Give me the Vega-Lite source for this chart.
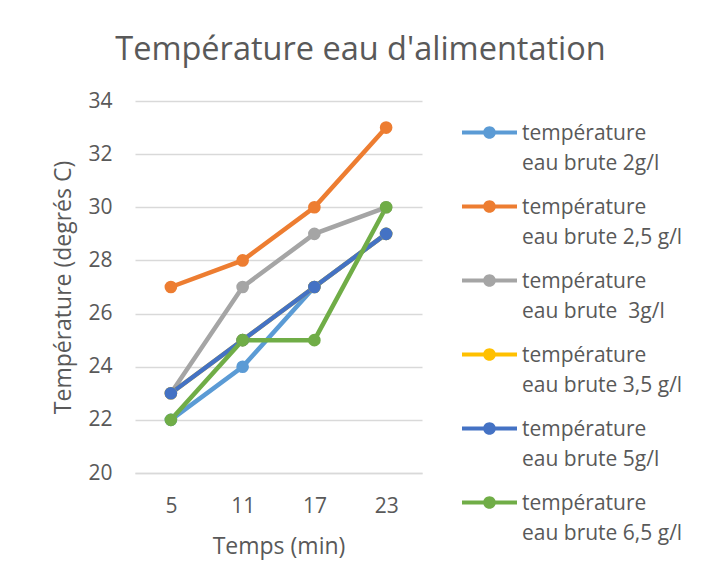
{
  "$schema": "https://vega.github.io/schema/vega-lite/v6.json",
  "autosize": "none",
  "width": 287,
  "height": 372,
  "padding": {"left": 135, "top": 101, "right": 291, "bottom": 113},
  "background": "white",
  "config": {"view": {"stroke": null}},
  "title": {
    "text": "Température eau d'alimentation",
    "anchor": "middle",
    "dx": 82,
    "offset": -2,
    "baseline": "alphabetic",
    "font": "Open Sans",
    "fontSize": 32.5,
    "fontWeight": "normal",
    "color": "#595959"
  },
  "data": {
    "values": [
      {"t": "5", "serie": "température eau brute 2g/l", "temp": 22},
      {"t": "11", "serie": "température eau brute 2g/l", "temp": 24},
      {"t": "17", "serie": "température eau brute 2g/l", "temp": 27},
      {"t": "23", "serie": "température eau brute 2g/l", "temp": 29},
      {"t": "5", "serie": "température eau brute 2,5 g/l", "temp": 27},
      {"t": "11", "serie": "température eau brute 2,5 g/l", "temp": 28},
      {"t": "17", "serie": "température eau brute 2,5 g/l", "temp": 30},
      {"t": "23", "serie": "température eau brute 2,5 g/l", "temp": 33},
      {"t": "5", "serie": "température eau brute  3g/l", "temp": 23},
      {"t": "11", "serie": "température eau brute  3g/l", "temp": 27},
      {"t": "17", "serie": "température eau brute  3g/l", "temp": 29},
      {"t": "23", "serie": "température eau brute  3g/l", "temp": 30},
      {"t": "5", "serie": "température eau brute 3,5 g/l", "temp": 23},
      {"t": "11", "serie": "température eau brute 3,5 g/l", "temp": 25},
      {"t": "17", "serie": "température eau brute 3,5 g/l", "temp": 27},
      {"t": "23", "serie": "température eau brute 3,5 g/l", "temp": 29},
      {"t": "5", "serie": "température eau brute 5g/l", "temp": 23},
      {"t": "11", "serie": "température eau brute 5g/l", "temp": 25},
      {"t": "17", "serie": "température eau brute 5g/l", "temp": 27},
      {"t": "23", "serie": "température eau brute 5g/l", "temp": 29},
      {"t": "5", "serie": "température eau brute 6,5 g/l", "temp": 22},
      {"t": "11", "serie": "température eau brute 6,5 g/l", "temp": 25},
      {"t": "17", "serie": "température eau brute 6,5 g/l", "temp": 25},
      {"t": "23", "serie": "température eau brute 6,5 g/l", "temp": 30}
    ]
  },
  "mark": {"type": "line", "strokeWidth": 4.5, "point": {"filled": true, "size": 160, "opacity": 1}},
  "encoding": {
    "x": {
      "field": "t",
      "type": "ordinal",
      "sort": ["5", "11", "17", "23"],
      "scale": {"type": "point", "padding": 0.5},
      "axis": {
        "title": "Temps (min)",
        "labelAngle": 0,
        "ticks": false,
        "domainColor": "#D9D9D9",
        "domainWidth": 1.5,
        "labelPadding": 22,
        "labelFontSize": 21,
        "labelColor": "#595959",
        "labelFont": "Open Sans",
        "titleFont": "Open Sans",
        "titleFontSize": 23,
        "titleFontWeight": "normal",
        "titleColor": "#595959",
        "titlePadding": 19,
        "grid": false
      }
    },
    "y": {
      "field": "temp",
      "type": "quantitative",
      "scale": {"domain": [20, 34], "nice": false, "zero": false},
      "axis": {
        "title": "Température (degrés C)",
        "values": [20, 22, 24, 26, 28, 30, 32, 34],
        "ticks": false,
        "domain": false,
        "gridColor": "#D9D9D9",
        "gridWidth": 1.5,
        "labelPadding": 23,
        "labelFontSize": 21,
        "labelColor": "#595959",
        "labelFont": "Open Sans",
        "titleFont": "Open Sans",
        "titleFontSize": 23,
        "titleFontWeight": "normal",
        "titleColor": "#595959",
        "titlePadding": 12
      }
    },
    "color": {
      "field": "serie",
      "type": "nominal",
      "sort": null,
      "scale": {
        "domain": ["température eau brute 2g/l", "température eau brute 2,5 g/l", "température eau brute  3g/l", "température eau brute 3,5 g/l", "température eau brute 5g/l", "température eau brute 6,5 g/l"],
        "range": ["#5B9BD5", "#ED7D31", "#A5A5A5", "#FFC000", "#4472C4", "#70AD47"]
      },
      "legend": {
        "title": null,
        "orient": "none",
        "legendX": 327,
        "legendY": 4,
        "padding": 0,
        "symbolType": "M-1,-0.07 H1 V0.07 H-1 Z M0.23,0 A0.23,0.23 0 1,1 -0.23,0 A0.23,0.23 0 1,1 0.23,0 Z",
        "symbolSize": 3025,
        "labelOffset": 5,
        "labelFont": "Open Sans",
        "labelFontSize": 21,
        "labelColor": "#595959",
        "labelLimit": 300,
        "labelBaseline": "alphabetic",
        "labelExpr": "[slice(datum.label, 0, 11), replace(slice(datum.label, 12), '  ', ' \u00a0')]",
        "rowPadding": 5,
        "encode": {
          "symbols": {"update": {"fill": {"scale": "color", "field": "value"}, "strokeWidth": {"value": 0}, "opacity": {"value": 1}}},
          "labels": {"update": {"lineHeight": {"value": 30}, "dy": {"value": 7}}}
        }
      }
    }
  }
}
